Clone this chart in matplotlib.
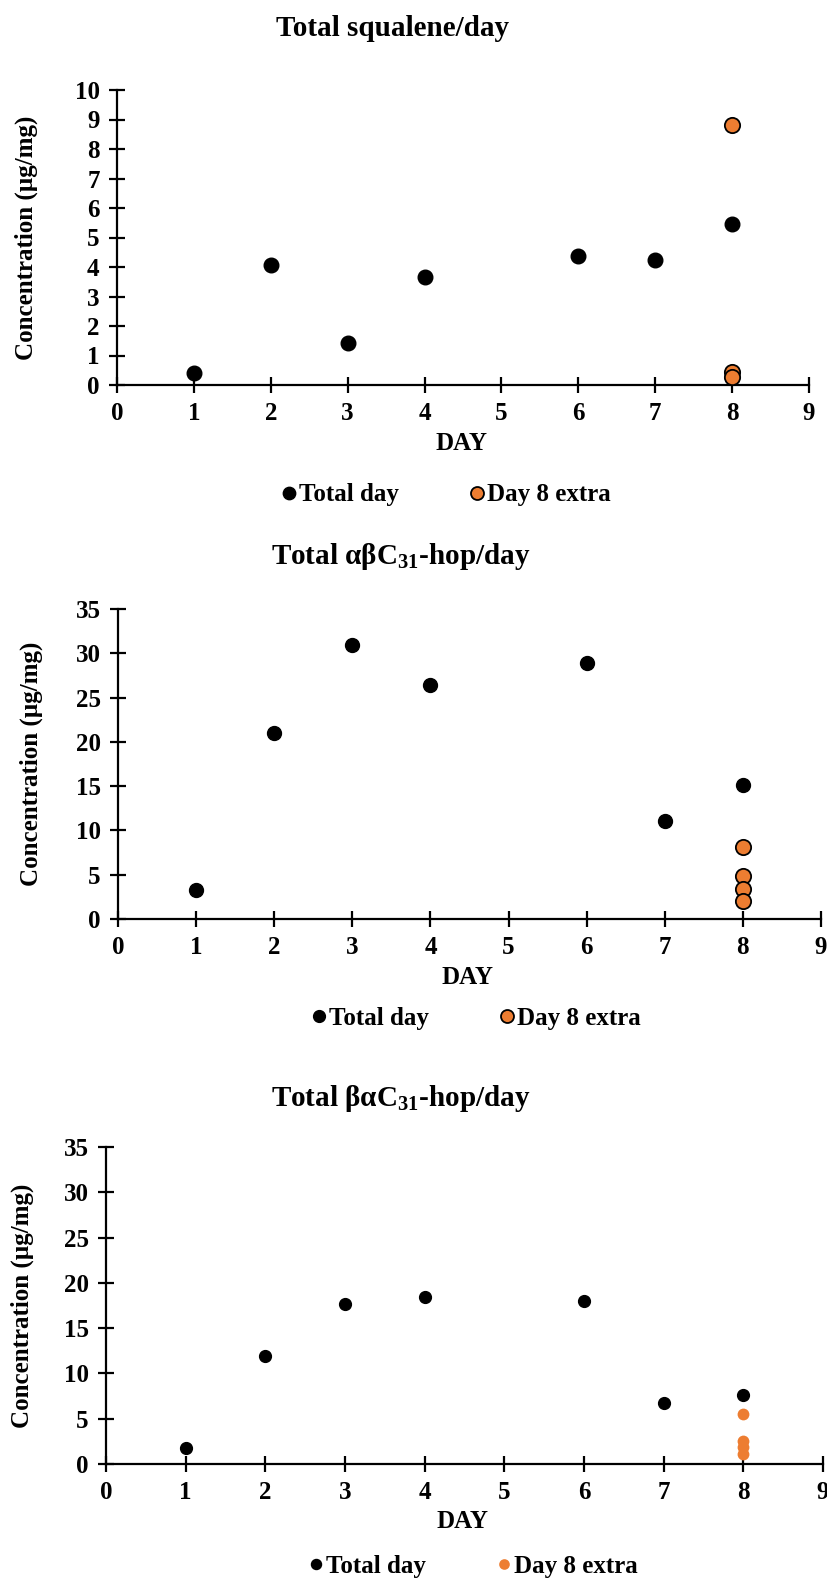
import matplotlib
matplotlib.use("Agg")
import matplotlib.pyplot as plt
from matplotlib.lines import Line2D

plt.rcParams['font.family'] = ['Liberation Serif', 'DejaVu Serif']
plt.rcParams['font.weight'] = 'bold'
plt.rcParams['mathtext.fontset'] = 'custom'
plt.rcParams['mathtext.rm'] = 'Liberation Serif:bold'
plt.rcParams['mathtext.bf'] = 'Liberation Serif:bold'
plt.rcParams['mathtext.default'] = 'bf'

# Squalene per day
squalene_days = [1, 2, 3, 4, 6, 7, 8]
squalene_total = [0.4, 4.07, 1.41, 3.66, 4.38, 4.24, 5.46]
squalene_extra_days = [8, 8, 8]
squalene_extra = [8.81, 0.45, 0.28]

# alpha-beta C31 hopane per day
abhop_days = [1, 2, 3, 4, 6, 7, 8]
abhop_total = [3.3, 21.05, 30.9, 26.4, 28.9, 11.1, 15.1]
abhop_extra_days = [8, 8, 8, 8]
abhop_extra = [8.1, 4.9, 3.4, 2.0]

# beta-alpha C31 hopane per day
bahop_days = [1, 2, 3, 4, 6, 7, 8]
bahop_total = [1.74, 11.9, 17.7, 18.4, 18.0, 6.75, 7.6]
bahop_extra_days = [8, 8, 8, 8]
bahop_extra = [5.5, 2.5, 1.85, 1.15]

titles = ["Total squalene/day", r"Total αβC$_{31}$-hop/day", r"Total βαC$_{31}$-hop/day"]
y_label = "Concentration (µg/mg)"
x_label = "DAY"
legend_labels = ["Total day", "Day 8 extra"]
x_ticks = list(range(0, 10))
y_ticks_list = [list(range(0, 11)), list(range(0, 36, 5)), list(range(0, 36, 5))]
y_max = [10, 35, 35]

ORANGE = "#ED7D31"
W, H = 827, 1580
FS = 18
fig = plt.figure(figsize=(W / 100, H / 100), dpi=100)


def px_axes(left, right, top, bottom):
    return fig.add_axes([left / W, 1 - bottom / H, (right - left) / W, (bottom - top) / H])


panels = [
    dict(box=(117, 809, 90, 385), title_xy=(392, 29), ylab_x=26, xlab_y=444, leg_xy=(446, 495),
         days=squalene_days, tot=squalene_total, xd=squalene_extra_days, ex=squalene_extra,
         ms_tot=10.5, ms_ex=11, ex_edge=True),
    dict(box=(118, 821, 609, 919), title_xy=(401, 556), ylab_x=31, xlab_y=978, leg_xy=(476, 1018),
         days=abhop_days, tot=abhop_total, xd=abhop_extra_days, ex=abhop_extra,
         ms_tot=10, ms_ex=11, ex_edge=True),
    dict(box=(106, 823, 1147, 1464), title_xy=(401, 1098), ylab_x=22, xlab_y=1521, leg_xy=(473, 1566),
         days=bahop_days, tot=bahop_total, xd=bahop_extra_days, ex=bahop_extra,
         ms_tot=8.5, ms_ex=8.5, ex_edge=False),
]

for i, p in enumerate(panels):
    l, r, t, b = p['box']
    ax = px_axes(l, r, t, b)
    ax.set_xlim(0, 9)
    ax.set_ylim(0, y_max[i])
    ax.set_xticks(x_ticks)
    ax.set_yticks(y_ticks_list[i])
    for s in ['top', 'right']:
        ax.spines[s].set_visible(False)
    for s in ['left', 'bottom']:
        ax.spines[s].set_linewidth(1.6)
        ax.spines[s].set_color('black')
    ax.tick_params(direction='inout', length=11, width=1.6, labelsize=FS, pad=7)
    for lab in ax.get_xticklabels() + ax.get_yticklabels():
        lab.set_fontweight('bold')

    ax.plot(p['days'], p['tot'], 'o', color='black', ms=p['ms_tot'], mec='black', clip_on=False, zorder=3)
    if p['ex_edge']:
        ax.plot(p['xd'], p['ex'], 'o', color=ORANGE, ms=p['ms_ex'], mec='black', mew=1.3,
                clip_on=False, zorder=4)
    else:
        ax.plot(p['xd'], p['ex'], 'o', color=ORANGE, ms=p['ms_ex'], mec=ORANGE, mew=0,
                clip_on=False, zorder=4)

    tx, ty = p['title_xy']
    fig.text(tx / W, 1 - ty / H, titles[i], ha='center', va='center', fontsize=21, fontweight='bold')
    fig.text(p['ylab_x'] / W, 1 - ((t + b) / 2) / H, y_label, rotation=90, ha='center', va='center',
             fontsize=FS, fontweight='bold')
    fig.text(((l + r) / 2 - 2) / W, 1 - p['xlab_y'] / H, x_label, ha='center', va='center',
             fontsize=FS, fontweight='bold')

    h_tot = Line2D([], [], ls='none', marker='o', color='black', ms=p['ms_tot'] * 0.85)
    if p['ex_edge']:
        h_ex = Line2D([], [], ls='none', marker='o', color=ORANGE, mec='black', mew=1.3, ms=p['ms_ex'] * 0.85)
    else:
        h_ex = Line2D([], [], ls='none', marker='o', color=ORANGE, mew=0, ms=p['ms_ex'] * 0.9)
    lx, ly = p['leg_xy']
    fig.legend([h_tot, h_ex], legend_labels, loc='center', bbox_to_anchor=(lx / W, 1 - ly / H),
               ncol=2, frameon=False, prop={'family': 'Liberation Serif', 'weight': 'bold', 'size': FS},
               handletextpad=0.1, columnspacing=2.8, handlelength=0.6, borderaxespad=0)

fig.savefig("out.png", dpi=100)
